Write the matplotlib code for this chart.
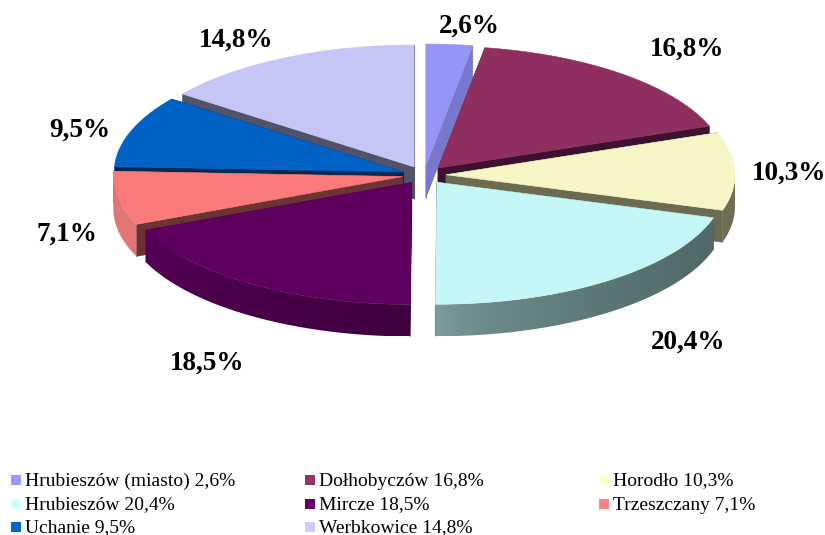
import numpy as np
import matplotlib
matplotlib.use("Agg")
import matplotlib.pyplot as plt
from matplotlib.colors import to_rgb
from matplotlib.patches import Polygon, Rectangle

plt.rcParams["font.family"] = ["Liberation Serif", "DejaVu Serif"]

# data
gminy = ["Hrubieszów (miasto)", "Dołhobyczów", "Horodło", "Hrubieszów",
         "Mircze", "Trzeszczany", "Uchanie", "Werbkowice"]
values = [2.6, 16.8, 10.3, 20.4, 18.5, 7.1, 9.5, 14.8]

# style
top_colors = ["#9595f8", "#8f2f60", "#f5f5c5", "#c4f7f6",
              "#5f005f", "#fb7b7b", "#0062c4", "#c6c6f6"]
legend_colors = ["#9999ff", "#993366", "#ffffcc", "#ccffff",
                 "#660066", "#ff8080", "#0066cc", "#ccccff"]
side_colors = ["#7777cc", "#3f1030", "#6b6b52", "#506868",
               "#3f003f", "#6b3333", "#002a55", "#52526a"]
# outer wall colour at its left and right end
rim_left = ["#7777cc", "#3f1030", "#6e6e52", "#7f9f9f",
            "#560056", "#e07676", "#002a55", "#52526a"]
rim_right = ["#7777cc", "#3f1030", "#6e6e52", "#506868",
             "#3f003f", "#e07676", "#002a55", "#52526a"]
label_xy = [(469, 26), (687, 49), (789, 173), (688, 342),
            (207, 363), (67, 234), (80, 130), (236, 40)]
legend_x = [11, 305, 599]
legend_y = [480, 504, 527]
draw_order = [0, 7, 1, 6, 2, 5, 3, 4]

# pie geometry in pixels
cx, cy = 424, 175
rx, ry = 289, 122
ex, ey = 22, 9
depth = 32


def rim(a, b, ox, oy, n=80):
    t = np.radians(np.linspace(a, b, n))
    return np.column_stack([ox + rx * np.sin(t), oy - ry * np.cos(t)])


fig = plt.figure(figsize=(8.25, 5.35), dpi=100)
ax = fig.add_axes([0, 0, 1, 1])

edges = np.concatenate([[0], np.cumsum(values)]) / sum(values) * 360
z = 1


def add_poly(pts, color):
    global z
    z += 1
    ax.add_patch(Polygon(pts, closed=True, facecolor=color, edgecolor=color,
                         linewidth=0.4, zorder=z))


def add_gradient_wall(pts, left, right):
    global z
    z += 1
    x0, x1 = pts[:, 0].min(), pts[:, 0].max()
    y0, y1 = pts[:, 1].min(), pts[:, 1].max()
    f = (np.linspace(0, 1, 200) ** 0.6)[None, :, None]
    c0, c1 = np.array(to_rgb(left)), np.array(to_rgb(right))
    im = ax.imshow(c0 + (c1 - c0) * f, extent=(x0, x1, y1, y0), aspect="auto",
                   interpolation="bilinear", zorder=z)
    im.set_clip_path(Polygon(pts, closed=True, transform=ax.transData))


for i in draw_order:
    a, b = edges[i], edges[i + 1]
    mid = np.radians((a + b) / 2)
    ox = cx + ex * np.sin(mid)
    oy = cy - ey * np.cos(mid)
    down = np.array([0, depth])

    # radial walls
    for ang in (a, b):
        p = rim(ang, ang, ox, oy, 1)[0]
        o = np.array([ox, oy])
        add_poly([o, p, p + down, o + down], side_colors[i])

    # outer wall
    lo, hi = max(a, 90), min(b, 270)
    if hi > lo:
        seg = rim(lo, hi, ox, oy)
        wall = np.vstack([seg, (seg + down)[::-1]])
        add_gradient_wall(wall, rim_left[i], rim_right[i])

    # top face
    add_poly(np.vstack([[ox, oy], rim(a, b, ox, oy)]), top_colors[i])

ax.set_xlim(0, 825)
ax.set_ylim(535, 0)
ax.axis("off")

for (x, y), v in zip(label_xy, values):
    ax.text(x, y, f"{v:.1f}%".replace(".", ","), fontsize=19.5, fontweight="bold",
            ha="center", va="center", color="black", zorder=100)

for i, (name, v) in enumerate(zip(gminy, values)):
    col = i % 3
    row = i // 3
    x, y = legend_x[col], legend_y[row]
    ax.add_patch(Rectangle((x, y - 5), 10, 10, facecolor=legend_colors[i],
                           edgecolor="none", zorder=100))
    ax.text(x + 14, y + 1, f"{name} {v:.1f}%".replace(".", ","), fontsize=14,
            ha="left", va="center", color="black", zorder=100)

fig.savefig("out.png", dpi=100, facecolor="white")
